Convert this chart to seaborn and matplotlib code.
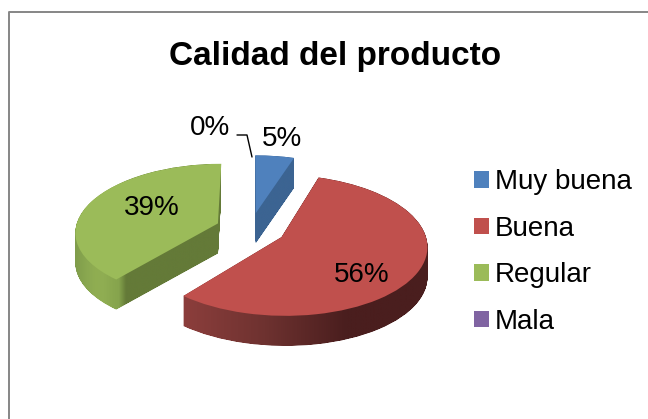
import matplotlib
matplotlib.use("Agg")
import matplotlib.pyplot as plt
import numpy as np
import seaborn as sns
from matplotlib.lines import Line2D
from matplotlib.path import Path
from matplotlib.transforms import Affine2D, Transform

categories = ["Muy buena", "Buena", "Regular", "Mala"]
values = [5, 56, 39, 0]
pct_labels = ["5%", "56%", "39%", "0%"]
title = "Calidad del producto"

top_colors = ["#4F81BD", "#C0504D", "#9BBB59", "#8064A2"]
wall_colors = [
    ["#3C6492", "#3C6492"],
    ["#8C3E3C", "#6E3230", "#4A1E1E", "#4A1E1E"],
    ["#7F9C4B", "#86A44E", "#8CAA51", "#90AE52", "#8FAD52", "#8AA84F", "#86A44D"] + ["#647A38"] * 14,
    ["#635080", "#635080"],
]

W, H = 648, 419
R = 142.5        # pie radius, px
CX, CY = 250.5, 229
DEPTH = 30
TILT = 0.475
K = 0.115


class Perspective(Transform):
    input_dims = 2
    output_dims = 2

    def transform_non_affine(self, xy):
        xy = np.asarray(xy, float)
        s = 1 / (1 + K * xy[:, 1])
        return np.column_stack([xy[:, 0] * s, TILT * xy[:, 1] * s])


def px(x, y):
    return x / W, 1 - y / H


sns.set_theme(style="white")
plt.rcParams["font.family"] = ["Liberation Sans", "DejaVu Sans"]

fig = plt.figure(figsize=(W / 100, H / 100), dpi=100)
ax = fig.add_axes([0, 0, 1, 1])

wedges, _ = ax.pie(
    values,
    colors=sns.color_palette(top_colors),
    startangle=90,
    counterclock=False,
    explode=[0.245] * len(values),
    frame=True,
    wedgeprops={"linewidth": 0},
)
ax.set_aspect("auto")
ax.set_xticks([])
ax.set_yticks([])
ax.grid(False)
for s in ax.spines.values():
    s.set_visible(False)

persp = Perspective()
for w, cols in zip(wedges, wall_colors):
    w.set_transform(persp + ax.transData)
    w.set_zorder(3)
    base = persp.transform_path(w.get_path())
    parts = [
        base.transformed(Affine2D().translate(0, -d / R))
        for d in np.arange(0, DEPTH + 0.5, 0.5)
    ]
    wall = Path.make_compound_path(*parts)
    (x0, y0), (x1, y1) = wall.get_extents().get_points()
    if x1 - x0 <= 0:
        continue
    cmap = sns.blend_palette(cols, as_cmap=True)
    im = ax.imshow(
        np.linspace(0, 1, 256)[None, :],
        cmap=cmap,
        extent=(x0, x1, y0, y1),
        aspect="auto",
        zorder=2,
    )
    im.set_clip_path(wall, ax.transData)
ax.set_xlim(-CX / R, (W - CX) / R)
ax.set_ylim(-(H - CY) / R, CY / R)

# chart border, only top and left reach into the crop
fig.add_artist(Line2D([8.5 / W, 8.5 / W, 1],
                      [0, 1 - 12.5 / H, 1 - 12.5 / H],
                      color="#868686", linewidth=1.4))

fig.text(*px(335, 57), title, ha="center", va="center", fontsize=24,
         fontweight="bold", color="black")

label_pos = [(282, 139), (362, 275), (152, 208), (210, 128)]
for lab, (x, y) in zip(pct_labels, label_pos):
    fig.text(*px(x, y), lab, ha="center", va="center", fontsize=20, color="black")

fig.add_artist(Line2D([237 / W, 247 / W, 252 / W],
                      [1 - 135 / H, 1 - 135 / H, 1 - 157 / H],
                      color="black", linewidth=1))

leg = fig.legend(
    wedges, categories,
    loc="center left",
    bbox_to_anchor=px(474, 252),
    frameon=False,
    fontsize=20,
    borderpad=0,
    borderaxespad=0,
    handlelength=0.54,
    handleheight=0.54,
    handletextpad=0.22,
    labelspacing=0.74,
    labelcolor="black",
)

fig.savefig("out.png", dpi=100)
